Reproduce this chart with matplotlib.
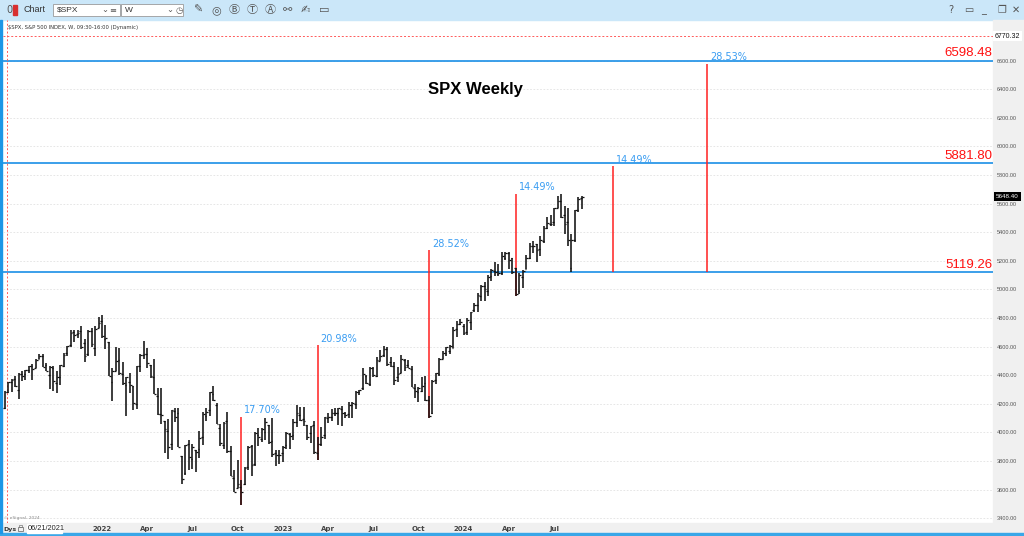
import matplotlib.pyplot as plt
from matplotlib.patches import Rectangle
import pandas as pd

# weekly bars of $SPX, first week 06/21/2021
opens = [4173, 4285, 4356, 4372, 4297, 4409, 4406, 4437, 4462, 4450, 4514, 4535, 4474, 4403,
         4450, 4348, 4385, 4464, 4554, 4610, 4701, 4689, 4712, 4628, 4549, 4710, 4588, 4733,
         4779, 4656, 4632, 4356, 4431, 4505, 4412, 4332, 4355, 4328, 4202, 4462, 4541, 4547,
         4474, 4385, 4255, 4130, 4081, 4013, 3919, 4151, 4134, 3838, 3715, 3920, 3816, 3880,
         3883, 3971, 4113, 4156, 4270, 4195, 4034, 3909, 4083, 3873, 3682, 3610, 3620, 3638,
         3762, 3902, 3780, 3979, 3956, 4006, 4053, 3940, 3853, 3843,
         3853, 3911, 3987, 3979, 4070, 4120, 4096, 4054, 3993, 4055, 3856, 3918, 3982, 4102,
         4110, 4138, 4134, 4166, 4136, 4126, 4190, 4201, 4283, 4308, 4396, 4337, 4450, 4394,
         4502, 4543, 4584, 4492, 4465, 4389, 4415, 4510, 4473, 4445, 4310, 4285, 4289, 4343,
         4225, 4139, 4365, 4406, 4515, 4555, 4569, 4593, 4725, 4758,
         4745, 4703, 4772, 4853, 4892, 4957, 5026, 4989, 5093, 5131, 5111, 5114, 5219, 5257,
         5218, 5150, 4988, 5085, 5143, 5221, 5305, 5316, 5283, 5341, 5432, 5459, 5471, 5572,
         5616, 5524, 5475, 5151, 5344, 5557, 5637]
highs = [4287, 4356, 4372, 4394, 4415, 4429, 4440, 4468, 4480, 4513, 4546, 4549, 4487, 4466,
         4466, 4430, 4475, 4559, 4608, 4718, 4719, 4715, 4744, 4653, 4713, 4732, 4741, 4808,
         4819, 4749, 4632, 4453, 4595, 4590, 4490, 4386, 4416, 4328, 4465, 4546, 4637, 4594,
         4474, 4513, 4309, 4308, 4082, 4091, 4159, 4169, 4168, 3838, 3914, 3946, 3919, 3880,
         4013, 4140, 4168, 4280, 4325, 4204, 4062, 4076, 4140, 3907, 3736, 3807, 3670, 3762,
         3906, 3912, 4001, 4028, 4034, 4101, 4053, 4101, 3876, 3879,
         3907, 4004, 3999, 4095, 4195, 4176, 4176, 4054, 4048, 4079, 3966, 4040, 4110, 4133,
         4164, 4170, 4170, 4187, 4142, 4213, 4213, 4290, 4299, 4448, 4400, 4458, 4456, 4527,
         4578, 4607, 4595, 4528, 4490, 4458, 4541, 4515, 4508, 4466, 4338, 4317, 4385, 4394,
         4255, 4366, 4415, 4521, 4568, 4595, 4610, 4739, 4778, 4793,
         4755, 4802, 4843, 4907, 4976, 5030, 5049, 5098, 5141, 5190, 5179, 5262, 5265, 5264,
         5222, 5150, 5114, 5139, 5240, 5325, 5342, 5316, 5375, 5447, 5506, 5523, 5570, 5655,
         5670, 5585, 5566, 5389, 5555, 5643, 5651]
lows = [4166, 4278, 4281, 4318, 4233, 4360, 4367, 4417, 4368, 4450, 4514, 4457, 4427, 4306,
        4288, 4279, 4330, 4460, 4537, 4596, 4630, 4658, 4585, 4495, 4532, 4600, 4532, 4733,
        4662, 4582, 4396, 4222, 4431, 4402, 4335, 4115, 4279, 4157, 4161, 4424, 4517, 4450,
        4381, 4269, 4124, 4062, 3859, 3811, 3876, 4074, 3900, 3637, 3705, 3741, 3743, 3722,
        3819, 3911, 4080, 4113, 4219, 4057, 3907, 3886, 3856, 3693, 3585, 3610, 3491, 3635,
        3741, 3698, 3764, 3906, 3933, 3946, 3918, 3828, 3765, 3783,
        3794, 3887, 3885, 3949, 4037, 4079, 4047, 3944, 3928, 3847, 3809, 3905, 3951, 4069,
        4079, 4113, 4049, 4048, 4099, 4098, 4104, 4166, 4260, 4300, 4341, 4328, 4385, 4389,
        4502, 4528, 4466, 4457, 4335, 4356, 4415, 4431, 4448, 4316, 4238, 4216, 4284, 4223,
        4104, 4127, 4342, 4394, 4514, 4537, 4546, 4593, 4667, 4751,
        4683, 4682, 4714, 4845, 4845, 4919, 4921, 4954, 5057, 5093, 5091, 5104, 5204, 5146,
        5107, 4953, 4970, 5012, 5142, 5212, 5257, 5191, 5234, 5325, 5420, 5447, 5444, 5571,
        5497, 5390, 5302, 5119.26, 5331, 5540, 5561]
closes = [4281, 4352, 4370, 4327, 4412, 4395, 4437, 4468, 4442, 4509, 4535, 4459, 4433, 4455,
          4357, 4391, 4471, 4545, 4605, 4697, 4683, 4698, 4595, 4538, 4712, 4620, 4726, 4766,
          4677, 4663, 4398, 4432, 4501, 4419, 4349, 4385, 4329, 4204, 4463, 4543, 4546, 4488,
          4393, 4272, 4132, 4123, 4023, 3901, 4158, 4109, 3901, 3675, 3912, 3825, 3899, 3863,
          3962, 4130, 4145, 4280, 4228, 4058, 3924, 4068, 3873, 3693, 3586, 3640, 3583, 3753,
          3901, 3771, 3993, 3965, 4026, 4072, 3934, 3852, 3845, 3840,
          3895, 3999, 3973, 4071, 4136, 4090, 4079, 3970, 4046, 3862, 3917, 3971, 4109, 4105,
          4138, 4133, 4169, 4136, 4124, 4192, 4205, 4282, 4299, 4410, 4348, 4450, 4399, 4505,
          4536, 4582, 4478, 4464, 4370, 4406, 4515, 4457, 4450, 4320, 4288, 4309, 4327, 4224,
          4117, 4358, 4415, 4514, 4559, 4595, 4604, 4719, 4755, 4770,
          4697, 4784, 4840, 4891, 4959, 5027, 5006, 5089, 5137, 5124, 5117, 5234, 5254, 5204,
          5123, 4967, 5100, 5128, 5223, 5303, 5305, 5278, 5347, 5431, 5465, 5460, 5567, 5615,
          5505, 5459, 5347, 5344, 5554, 5634, 5648.40]
start_date = "2021-06-21"

# swing lows measured up to the next high
swing_idx = [68, 90, 122, 147]
swing_pcts = [17.70, 20.98, 28.52, 14.49]
# projections from the August low
proj_base = 5119.26
proj_idx = [175, 202]
proj_pcts = [14.49, 28.53]
proj_tops = [5861.0, 6579.8]
levels = [6598.48, 5881.80, 5119.26]
alert_level = 6770.32

W, H = 1024, 536
fig = plt.figure(figsize=(W / 100, H / 100), dpi=100)
fig.patch.set_facecolor("white")
sym_fonts = ["DejaVu Sans", "Noto Sans CJK JP"]


def box(x0, y0, x1, y1):
    # pixel box (from top left) -> figure fraction rect
    return [x0 / W, 1 - y1 / H, (x1 - x0) / W, (y1 - y0) / H]


def rect(x0, y0, x1, y1, z=-2, **kw):
    b = box(x0, y0, x1, y1)
    fig.patches.append(Rectangle((b[0], b[1]), b[2], b[3], transform=fig.transFigure,
                                 zorder=z, **kw))


# window frame
rect(0, 0, W, 20, color="#cbe7f9")
rect(993, 20, W, 533, color="#f0f0f0")
rect(0, 523, W, 533, color="#f0f0f0")
rect(0, 533, W, H, color="#3aa7e8")
rect(0, 20, 2, 533, color="#1e96e6")

ax = fig.add_axes(box(3, 20, 993, 523))
ax.set_zorder(1)
ax.patch.set_alpha(0)
ax.set_xlim(-0.46, 284.2)
ax.set_ylim(3367, 6884)
for s in ax.spines.values():
    s.set_visible(False)

ax.set_yticks(range(3400, 6601, 200))
ax.yaxis.set_major_formatter("{x:.2f}")
ax.yaxis.tick_right()
ax.tick_params(axis="y", length=0, pad=3, labelsize=4, labelcolor="#555555")
for t in ax.get_yticklabels():
    t.set_family("Liberation Sans")
ax.grid(axis="y", color="#e2e2e2", linestyle=(0, (2, 2)), linewidth=0.6)

# quarter labels; the ones under the date box are not shown
dates = pd.date_range(start_date, periods=len(closes), freq="7D")
xpos, xlab = [], []
for i in range(20, len(dates)):
    d = dates[i]
    if d.month in (1, 4, 7, 10) and d.month != dates[i - 1].month:
        xpos.append(i)
        xlab.append(str(d.year) if d.month == 1 else d.strftime("%b"))
ax.set_xticks(xpos)
ax.set_xticklabels(xlab, fontweight="bold", fontsize=5, color="#444444")
ax.tick_params(axis="x", length=0, pad=2.5)

# OHLC bars
idx = list(range(len(closes)))
ax.vlines(idx, lows, highs, color="#111111", lw=1.15, zorder=3)
ax.hlines(opens, [i - 0.5 for i in idx], idx, color="#111111", lw=0.9, zorder=3)
ax.hlines(closes, idx, [i + 0.5 for i in idx], color="#111111", lw=0.9, zorder=3)

# levels
for lv in levels:
    ax.axhline(lv, color="#1a8fe6", lw=1.2, zorder=2)
    ax.annotate(f"{lv:.2f}", (0.9995, lv), xycoords=("axes fraction", "data"),
                xytext=(0, 1), textcoords="offset points", ha="right", va="bottom",
                color="#ff1010", fontsize=9.5, family="Liberation Sans", zorder=5)

ax.axhline(alert_level, color="#ff5a5a", lw=0.7, ls=(0, (2, 2)), zorder=2)
ax.axvline(0.6, color="#ff5a5a", lw=0.7, ls=(0, (2, 2)), zorder=2)

pct_color = "#3a9df2"
for i, p in zip(swing_idx, swing_pcts):
    lo = lows[i]
    top = lo * (1 + p / 100)
    ax.vlines(i, lo, top, color="#ff2020", lw=1.1, zorder=2)
    ax.annotate(f"{p:.2f}%", (i, top), xytext=(2.2, 2.5), textcoords="offset points",
                color=pct_color, fontsize=7, va="baseline", zorder=5)
for i, p, top in zip(proj_idx, proj_pcts, proj_tops):
    ax.vlines(i, proj_base, top, color="#ff2020", lw=1.1, zorder=2)
    ax.annotate(f"{p:.2f}%", (i, top), xytext=(2.2, 2.5), textcoords="offset points",
                color=pct_color, fontsize=7, va="baseline", zorder=5)

# price boxes on the right axis
ax.annotate(f"{alert_level:.2f}", (1.002, alert_level), xycoords=("axes fraction", "data"),
            ha="left", va="center", fontsize=5, color="#111111", family="Liberation Sans",
            bbox=dict(boxstyle="square,pad=0.25", fc="white", ec="none"), zorder=6,
            annotation_clip=False)
ax.annotate(f"{closes[-1]:.2f}", (1.003, closes[-1]), xycoords=("axes fraction", "data"),
            ha="left", va="center", fontsize=4.5, color="white", family="Liberation Sans",
            bbox=dict(boxstyle="square,pad=0.3", fc="black", ec="none"), zorder=6,
            annotation_clip=False)

fig.text(475 / W, 1 - 89 / H, "SPX Weekly", ha="center", va="center", fontsize=12,
         fontweight="bold", family="Liberation Sans")
fig.text(8 / W, 1 - 27 / H, r"\$SPX, S&P 500 INDEX, W, 09:30-16:00 (Dynamic)", fontsize=3.8,
         va="center", color="#333333")
fig.text(4 / W, 1 - 518 / H, "© eSignal, 2024", fontsize=3.2, va="center", color="#888888")

# bottom strip
fig.text(3 / W, 1 - 529 / H, "Dys", fontsize=4.5, fontweight="bold", va="center",
         color="#333333")
# small padlock shape
rect(18, 527, 23, 531, z=-1, fc="none", ec="#777777", lw=0.6)
rect(19, 524.5, 22, 527, z=-1, fc="none", ec="#777777", lw=0.5)
rect(27, 524, 62, 533, z=-1, color="white")
fig.text(28 / W, 1 - 528.5 / H, dates[0].strftime("%m/%d/%Y"), fontsize=5.3, va="center",
         color="#222222", family="Liberation Sans")

# toolbar
fig.text(6 / W, 1 - 10 / H, "0", fontsize=7, va="center", color="#555555")
rect(13, 5, 17, 15, z=-1, color="#d83030")
fig.text(23 / W, 1 - 10 / H, "Chart", fontsize=6.5, va="center", color="#333333",
         family="Liberation Sans")
rect(53, 4, 120, 16, z=-1, fc="white", ec="#9a9a9a", lw=0.6)
rect(121, 4, 183, 16, z=-1, fc="white", ec="#9a9a9a", lw=0.6)
fig.text(57 / W, 1 - 10 / H, r"\$SPX", fontsize=6, va="center", color="#333333",
         family="Liberation Sans")
fig.text(125 / W, 1 - 10 / H, "W", fontsize=6, va="center", color="#333333",
         family="Liberation Sans")
for x, s in [(101, "⌄"), (109, "≡"), (166, "⌄"), (175, "◷")]:
    fig.text(x / W, 1 - 10 / H, s, fontsize=6, va="center", color="#555555", family=sym_fonts)
for x, s in [(193, "✎"), (211, "◎"), (229, "Ⓑ"), (247, "Ⓣ"), (265, "Ⓐ"), (283, "⚯"),
             (301, "✍"), (319, "▭")]:
    fig.text(x / W, 1 - 10 / H, s, fontsize=8, va="center", color="#555555", family=sym_fonts)
for x, s in [(948, "?"), (964, "▭"), (981, "_"), (997, "❐"), (1012, "✕")]:
    fig.text(x / W, 1 - 10 / H, s, fontsize=7, va="center", color="#555555", family=sym_fonts)

fig.savefig("out.png", dpi=100)
